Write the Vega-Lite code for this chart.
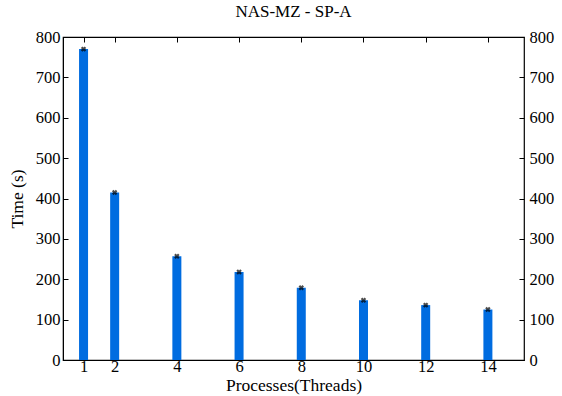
{
  "$schema": "https://vega.github.io/schema/vega-lite/v6.json",
  "width": 461,
  "height": 323,
  "autosize": "none",
  "padding": {"left": 63, "top": 37, "right": 38, "bottom": 36},
  "background": "white",
  "title": {"text": "NAS-MZ - SP-A", "font": "Liberation Serif", "fontSize": 17, "fontWeight": "normal", "color": "black", "offset": 8},
  "config": {
    "view": {"stroke": "black", "strokeWidth": 1.2},
    "axis": {"grid": false, "labelFont": "Liberation Serif", "titleFont": "Liberation Serif", "labelFontSize": 16.5, "titleFontSize": 17.5, "titleFontWeight": "normal", "labelColor": "black", "titleColor": "black", "domainColor": "black", "tickColor": "black", "tickSize": -5, "labelPadding": 8}
  },
  "data": {"values": [
    {"p": 1, "t": 770},
    {"p": 2, "t": 415},
    {"p": 4, "t": 257},
    {"p": 6, "t": 218},
    {"p": 8, "t": 179},
    {"p": 10, "t": 148},
    {"p": 12, "t": 136},
    {"p": 14, "t": 125}
  ]},
  "layer": [
    {
      "mark": {"type": "bar", "width": 9, "color": "#006ce0"},
      "encoding": {
        "x": {"field": "p", "type": "quantitative", "scale": {"domain": [0.5, 15], "nice": false, "zero": false},
              "axis": {"values": [1, 2, 4, 6, 8, 10, 12, 14], "title": "Processes(Threads)", "titlePadding": 2, "labelPadding": 3}},
        "y": {"field": "t", "type": "quantitative", "scale": {"domain": [0, 800]},
              "axis": {"values": [0, 100, 200, 300, 400, 500, 600, 700, 800], "title": "Time (s)", "titlePadding": 9}}
      }
    },
    {
      "mark": {"type": "point", "shape": "cross", "angle": 45, "filled": true, "color": "black", "size": 30},
      "encoding": {
        "x": {"field": "p", "type": "quantitative", "scale": {"domain": [0.5, 15], "nice": false, "zero": false}, "axis": null},
        "y": {"field": "t", "type": "quantitative", "scale": {"domain": [0, 800]}, "axis": null}
      }
    },
    {
      "mark": {"type": "rule", "color": "transparent"},
      "encoding": {
        "x": {"field": "p", "type": "quantitative", "scale": {"domain": [0.5, 15], "nice": false, "zero": false}, "axis": {"orient": "top", "values": [1, 2, 4, 6, 8, 10, 12, 14], "labels": false, "title": null, "domain": false}},
        "y": {"field": "t", "type": "quantitative", "scale": {"domain": [0, 800]}, "axis": {"orient": "right", "values": [0, 100, 200, 300, 400, 500, 600, 700, 800], "title": null, "domain": false, "labelPadding": 10}}
      }
    }
  ],
  "resolve": {"axis": {"x": "independent", "y": "independent"}}
}
